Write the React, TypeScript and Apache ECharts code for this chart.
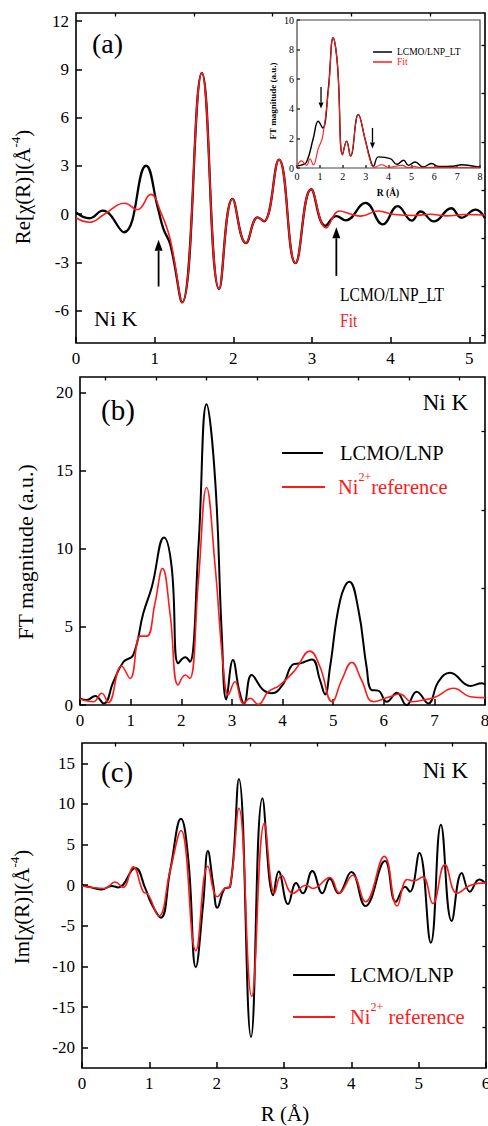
import React, { useEffect, useRef } from 'react';
import * as echarts from 'echarts';

const FONT = 'Liberation Serif, Times New Roman, serif';
const RED = '#ff1a1a';
const BLACK = '#000000';

// ---------- Panel (a): Re[chi(R)] ----------
const aXTicks = [0, 1, 2, 3, 4, 5];
const aXMinor = [0.5, 1.5, 2.5, 3.5, 4.5];
const aYTicks = [-6, -3, 0, 3, 6, 9, 12];
const aYMinor = [-7.5, -4.5, -1.5, 1.5, 4.5, 7.5, 10.5];
const aBlack: number[][] = [
  [0, 0.12], [0.17, -0.25], [0.34, 0.22], [0.61, -1.12], [0.89, 3.01], [1.04, 0.4],
  [1.11, -0.9], [1.2, -1.9], [1.35, -5.48], [1.6, 8.78], [1.82, -4.65], [1.99, 0.95],
  [2.16, -1.8], [2.31, -0.19], [2.39, -0.44], [2.58, 3.39], [2.79, -3.04], [2.99, 1.55],
  [3.17, -0.72], [3.31, -0.12], [3.43, -0.38], [3.68, 0.7], [3.9, -0.63], [4.09, 0.5],
  [4.27, -0.4], [4.38, 0.17], [4.55, -0.45], [4.77, 0.37], [4.9, -0.22], [5.08, 0.28],
  [5.2, -0.25],
];
const aFit: number[][] = [
  [0, -0.22], [0.17, -0.5], [0.36, 0.0], [0.62, 0.68], [0.78, 0.28], [0.95, 1.23],
  [1.08, 0.1], [1.2, -1.6], [1.35, -5.48], [1.6, 8.78], [1.82, -4.65], [1.99, 0.95],
  [2.16, -1.8], [2.31, -0.19], [2.39, -0.44], [2.58, 3.39], [2.79, -3.04], [2.99, 1.55],
  [3.18, -0.85], [3.35, 0.2], [3.5, 0.0], [3.62, -0.12], [3.84, 0.2], [4.05, -0.02],
  [4.3, -0.08], [4.5, 0.0], [4.7, -0.1], [4.95, -0.02], [5.2, -0.05],
];
// arrows in (a): [x, tail y, tip y]
const aArrows: number[][] = [[1.05, -4.49, -1.59], [3.31, -3.83, -0.81]];

// ---------- Inset of (a): FT magnitude ----------
const insXTicks = [0, 1, 2, 3, 4, 5, 6, 7, 8];
const insYTicks = [0, 2, 4, 6, 8, 10];
const insBlack: number[][] = [
  [0, 0.15], [0.2, 0.2], [0.42, 0.41], [0.71, 1.99], [0.93, 3.16], [1.12, 2.7],
  [1.37, 5.37], [1.58, 8.8], [1.77, 6.95], [1.99, 0.9], [2.17, 1.81], [2.34, 0.81],
  [2.68, 3.61], [2.97, 1.99], [3.2, 0.6], [3.34, 0.12], [3.56, 0.75], [4.08, 0.63],
  [4.37, 0.25], [4.66, 0.52], [4.87, 0.18], [5.16, 0.41], [5.52, 0.07], [5.88, 0.3],
  [6.2, 0.1], [6.8, 0.12], [7.2, 0.22], [7.6, 0.15], [8, 0.05],
];
const insFit: number[][] = [
  [0, 0.1], [0.2, 0.48], [0.42, 0.18], [0.57, 0.63], [0.71, 0.2], [0.93, 1.31],
  [1.12, 2.1], [1.37, 5.15], [1.58, 8.8], [1.77, 6.95], [1.99, 0.9], [2.17, 1.81],
  [2.34, 0.81], [2.68, 3.61], [2.97, 1.99], [3.2, 0.5], [3.38, 0.05], [3.7, 0.22],
  [4.0, 0.05], [4.6, 0.18], [4.85, 0.03], [5.1, 0.12], [5.4, 0.02], [6, 0.04],
  [7, 0.03], [8, 0.02],
];
const insArrows: number[][] = [[1.05, 5.48, 4.02], [3.3, 2.71, 1.31]];

// ---------- Panel (b): FT magnitude ----------
const bXTicks = [0, 1, 2, 3, 4, 5, 6, 7, 8];
const bXMinor = [0.5, 1.5, 2.5, 3.5, 4.5, 5.5, 6.5, 7.5];
const bYTicks = [0, 5, 10, 15, 20];
const bYMinor = [2.5, 7.5, 12.5, 17.5];
const bSample: number[][] = [
  [0, 0.43], [0.13, 0.32], [0.3, 0.58], [0.47, 0.1], [0.66, 1.49], [0.86, 2.77],
  [1.05, 3.2], [1.25, 5.87], [1.42, 7.57], [1.66, 10.73], [1.81, 8.85], [1.94, 2.67],
  [2.08, 3.05], [2.17, 2.77], [2.34, 10.13], [2.5, 19.26], [2.67, 14.4], [2.8, 4.58],
  [2.89, 0.36], [3.02, 2.88], [3.15, 0.85], [3.24, 0.1], [3.39, 1.92], [3.62, 0.96],
  [3.79, 0.75], [4.0, 1.28], [4.22, 2.62], [4.35, 2.67], [4.58, 2.92], [4.74, 1.6],
  [4.84, 0.68], [4.94, 2.45], [5.14, 6.72], [5.32, 7.89], [5.5, 6.08], [5.66, 2.45],
  [5.76, 0.96], [5.89, 0.92], [6.06, 0.21], [6.26, 0.79], [6.45, 0.0], [6.65, 0.85],
  [6.88, 0.1], [7.08, 1.49], [7.31, 2.07], [7.71, 1.22], [7.94, 1.39], [8.0, 1.3],
];
const bRef: number[][] = [
  [0, 0.38], [0.26, 0.21], [0.43, 0.75], [0.56, 0.15], [0.82, 2.5], [0.99, 1.7],
  [1.19, 4.41], [1.32, 4.41], [1.48, 6.5], [1.63, 8.74], [1.78, 5.82], [1.94, 1.28],
  [2.08, 1.92], [2.17, 1.7], [2.34, 8.0], [2.5, 13.93], [2.67, 8.85], [2.83, 2.45],
  [2.93, 0.64], [3.06, 1.49], [3.23, 0.1], [3.36, 0.43], [3.52, 0.05], [3.72, 0.85],
  [3.95, 1.28], [4.25, 2.24], [4.54, 3.45], [4.74, 2.45], [4.98, 0.21], [5.17, 1.6],
  [5.37, 2.73], [5.56, 1.6], [5.8, 0.21], [6.12, 0.53], [6.32, 0.7], [6.55, 0.21],
  [6.78, 0.32], [7.01, 0.49], [7.38, 1.07], [7.71, 0.53], [8.0, 0.47],
];

// ---------- Panel (c): Im[chi(R)] ----------
const cXTicks = [0, 1, 2, 3, 4, 5, 6];
const cXMinor = [0.5, 1.5, 2.5, 3.5, 4.5, 5.5];
const cYTicks = [-20, -15, -10, -5, 0, 5, 10, 15];
const cYMinor = [-17.5, -12.5, -7.5, -2.5, 2.5, 7.5, 12.5];
const cSample: number[][] = [
  [0, 0], [0.15, -0.3], [0.29, -0.53], [0.44, -0.1], [0.54, -0.27], [0.79, 2.12],
  [0.94, -0.4], [1.03, -2.25], [1.17, -4.0], [1.31, 1.84], [1.47, 8.17], [1.58, 3.06],
  [1.69, -10.09], [1.8, -2.25], [1.87, 4.2], [1.95, 0], [2.01, -2.78], [2.12, -0.4],
  [2.2, -0.2], [2.33, 13.07], [2.51, -18.67], [2.68, 10.7], [2.84, -1.23], [2.92, 1.7],
  [3.06, -2.33], [3.18, 0.28], [3.28, -1.0], [3.42, 1.76], [3.57, -1.0], [3.68, 0.8],
  [3.81, -1.0], [4.0, 1.63], [4.21, -2.57], [4.5, 2.98], [4.66, -2.04], [4.8, -0.2],
  [4.87, -0.8], [5.01, 3.96], [5.18, -7.07], [5.33, 7.45], [5.49, -4.41], [5.64, 1.51],
  [5.76, -0.8], [5.9, 0.7], [6.0, 0.2],
];
const cRef: number[][] = [
  [0, -0.1], [0.34, -0.4], [0.49, 0.4], [0.61, -0.27], [0.76, 2.25], [0.91, -0.82],
  [0.98, -1.1], [1.14, -3.8], [1.31, 1.84], [1.47, 6.74], [1.69, -8.05], [1.87, 2.33],
  [2.01, -1.43], [2.12, -0.4], [2.2, -0.1], [2.33, 9.47], [2.52, -13.69], [2.71, 7.64],
  [2.86, -1.0], [2.96, 1.23], [3.13, -1.0], [3.33, 0], [3.43, -0.4], [3.68, 0.94],
  [3.82, -0.94], [4.02, 1.23], [4.21, -2.04], [4.49, 3.55], [4.68, -2.57], [4.83, 0.7],
  [4.93, 0.53], [5.06, 1.02], [5.21, -2.25], [5.39, 2.53], [5.57, -1.0], [5.77, 0],
  [6.0, 0.29],
];

function majorAxis(gridIndex: number, min: number, max: number, ticks: number[], fontSize: number, tickLen = 6, margin = 7, color = BLACK) {
  return {
    type: 'value', gridIndex, min, max,
    axisLine: { show: false, onZero: false },
    splitLine: { show: false },
    axisTick: { show: true, inside: true, length: tickLen, lineStyle: { color, width: 1.5 }, customValues: ticks },
    axisLabel: { show: true, customValues: ticks, fontFamily: FONT, fontSize, color: BLACK, margin },
  };
}
function minorAxis(gridIndex: number, min: number, max: number, ticks: number[]) {
  return {
    type: 'value', gridIndex, min, max,
    axisLine: { show: false, onZero: false },
    splitLine: { show: false },
    axisTick: { show: true, inside: true, length: 3.5, lineStyle: { color: BLACK, width: 1.3 }, customValues: ticks },
    axisLabel: { show: false },
  };
}

function line(name: string, data: number[][], xi: number, yi: number, color: string, width: number, z: number) {
  return {
    type: 'line', name, data, xAxisIndex: xi, yAxisIndex: yi,
    showSymbol: false, symbol: 'none', smooth: 0.45, z,
    lineStyle: { color, width },
  };
}

function txt(x: number, y: number, text: string, fontSize: number, fill = BLACK, extra: any = {}, styleExtra: any = {}) {
  return {
    type: 'text', x, y, z: 100, ...extra,
    style: { text, fontFamily: FONT, fontSize, fill, align: 'left', verticalAlign: 'middle', ...styleExtra },
  };
}

function richTxt(x: number, y: number, text: string, fontSize: number, supSize: number, fill: string, align: string, lh: number, extra: any = {}) {
  return {
    type: 'text', x, y, z: 100, ...extra,
    style: {
      text, align, verticalAlign: 'middle', fill, fontFamily: FONT, fontSize,
      rich: {
        n: { fontFamily: FONT, fontSize, fill, lineHeight: fontSize * lh, verticalAlign: 'middle' },
        s: { fontFamily: FONT, fontSize: supSize, fill, lineHeight: supSize, verticalAlign: 'top' },
      },
    },
  };
}

function hline(x1: number, x2: number, y: number, color: string, width: number) {
  return { type: 'line', z: 100, shape: { x1, y1: y, x2, y2: y }, style: { stroke: color, lineWidth: width } };
}

export default function App() {
  const ref = useRef<HTMLDivElement>(null);
  useEffect(() => {
    if (!ref.current) return;
    const chart = echarts.init(ref.current, null, { renderer: 'svg' });
    const gridBase = { show: true, borderColor: BLACK, borderWidth: 1.6, backgroundColor: 'transparent', outerBoundsMode: 'none', containLabel: false };
    const texts: any[] = [
      // panel (a)
      txt(92, 43, '(a)', 28),
      txt(94, 318, 'Ni K', 22),
      txt(340, 295, 'LCMO/LNP_LT', 19, BLACK, { scaleX: 0.82 }),
      txt(340, 321, 'Fit', 19, RED, { scaleX: 0.82 }),
      richTxt(23, 187, '{n|Re[χ(R)](Å}{s|-4}{n|)}', 21, 13, BLACK, 'center', 1.3, { rotation: Math.PI / 2 }),
      // inset
      hline(373, 392, 52, BLACK, 1.5),
      txt(397, 52, 'LCMO/LNP_LT', 9.5),
      hline(373, 392, 62, RED, 1.5),
      txt(397, 62, 'Fit', 9.5, RED),
      txt(273, 101, 'FT magnitude (a.u.)', 9, BLACK, { rotation: Math.PI / 2 }, { align: 'center', fontWeight: 'bold' }),
      txt(388, 193, 'R (Å)', 9.5, BLACK, {}, { align: 'center', fontWeight: 'bold' }),
      // panel (b)
      txt(101, 410, '(b)', 29),
      txt(468, 402, 'Ni K', 23, BLACK, {}, { align: 'right' }),
      hline(282, 323, 453, BLACK, 2),
      txt(340, 453, 'LCMO/LNP', 20.5),
      hline(282, 325, 487, RED, 1.8),
      richTxt(338, 487, '{n|Ni}{s|2+}{n|reference}', 20.5, 12, RED, 'left', 1.55),
      txt(25, 552, 'FT magnitude (a.u.)', 22, BLACK, { rotation: Math.PI / 2 }, { align: 'center' }),
      // panel (c)
      txt(101, 772, '(c)', 29),
      txt(468, 770, 'Ni K', 23, BLACK, {}, { align: 'right' }),
      hline(293, 335, 975, BLACK, 2),
      txt(350, 975, 'LCMO/LNP', 20.5),
      hline(293, 335, 1017, RED, 1.8),
      richTxt(350, 1017, '{n|Ni}{s|2+}{n| reference}', 20.5, 12, RED, 'left', 1.55),
      richTxt(22, 907, '{n|Im[χ(R)](Å}{s|-4}{n|)}', 21, 13, BLACK, 'center', 1.3, { rotation: Math.PI / 2 }),
      txt(285, 1114, 'R (Å)', 21, BLACK, {}, { align: 'center' }),
    ];
    const option: any = {
      animation: false,
      backgroundColor: '#ffffff',
      textStyle: { fontFamily: FONT },
      grid: [
        { ...gridBase, left: 76, top: 13, width: 409, height: 330 },
        { ...gridBase, left: 297, top: 20, width: 183, height: 148, borderColor: '#444', borderWidth: 1.2, backgroundColor: '#ffffff', z: 5 },
        { ...gridBase, left: 80, top: 377, width: 405, height: 328 },
        { ...gridBase, left: 82, top: 743, width: 404, height: 325 },
      ],
      xAxis: [
        majorAxis(0, 0, 5.2, aXTicks, 17),
        minorAxis(0, 0, 5.2, aXMinor),
        { ...majorAxis(1, 0, 8, insXTicks, 10, 3, 3, '#333'), z: 6 },
        majorAxis(2, 0, 8, bXTicks, 17),
        minorAxis(2, 0, 8, bXMinor),
        majorAxis(3, 0, 6, cXTicks, 17),
        minorAxis(3, 0, 6, cXMinor),
      ],
      yAxis: [
        majorAxis(0, -8, 12.5, aYTicks, 17),
        minorAxis(0, -8, 12.5, aYMinor),
        { ...majorAxis(1, 0, 10, insYTicks, 10, 3, 3, '#333'), z: 6 },
        majorAxis(2, 0, 21, bYTicks, 17),
        minorAxis(2, 0, 21, bYMinor),
        majorAxis(3, -22.5, 17.5, cYTicks, 17),
        minorAxis(3, -22.5, 17.5, cYMinor),
      ],
      series: [
        line('LCMO/LNP_LT', aBlack, 0, 0, BLACK, 2.3, 2),
        line('Fit', aFit, 0, 0, RED, 1.6, 3),
        line('LCMO/LNP_LT inset', insBlack, 2, 2, BLACK, 1.4, 7),
        line('Fit inset', insFit, 2, 2, RED, 1.1, 8),
        line('LCMO/LNP', bSample, 3, 3, BLACK, 2, 2),
        line('Ni2+ reference', bRef, 3, 3, RED, 1.6, 3),
        line('LCMO/LNP c', cSample, 5, 5, BLACK, 2, 2),
        line('Ni2+ reference c', cRef, 5, 5, RED, 1.6, 3),
      ],
      graphic: texts,
    };
    chart.setOption(option);

    // arrows placed through the axes' own coordinate conversion
    const arrowEls: any[] = [];
    const addArrows = (list: number[][], xi: number, yi: number, headLen: number, headHalf: number, width: number) => {
      list.forEach((a) => {
        const tail = chart.convertToPixel({ xAxisIndex: xi, yAxisIndex: yi } as any, [a[0], a[1]]) as number[];
        const tip = chart.convertToPixel({ xAxisIndex: xi, yAxisIndex: yi } as any, [a[0], a[2]]) as number[];
        if (!tail || !tip) return;
        const dir = tip[1] < tail[1] ? 1 : -1; // 1: pointing up
        const baseY = tip[1] + dir * headLen;
        arrowEls.push({ type: 'line', z: 110, shape: { x1: tail[0], y1: tail[1], x2: tip[0], y2: baseY }, style: { stroke: BLACK, lineWidth: width } });
        arrowEls.push({ type: 'polygon', z: 110, shape: { points: [[tip[0], tip[1]], [tip[0] - headHalf, baseY], [tip[0] + headHalf, baseY]] }, style: { fill: BLACK } });
      });
    };
    addArrows(aArrows, 0, 0, 11, 4, 1.8);
    addArrows(insArrows, 2, 2, 6, 2.5, 1.3);
    chart.setOption({ graphic: [...texts, ...arrowEls] });
    return () => chart.dispose();
  }, []);
  return (
    <div
      ref={ref}
      style={{ position: 'absolute', left: 0, top: 0, width: 488, height: 1126, background: '#fff' }}
    />
  );
}
